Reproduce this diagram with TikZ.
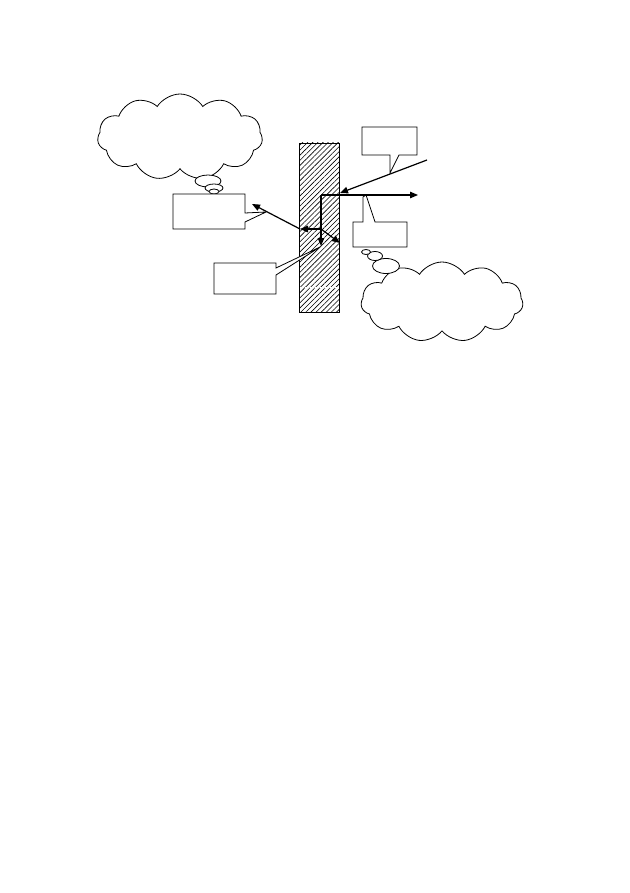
\documentclass[tikz,border=0pt]{standalone}
\usetikzlibrary{shapes.symbols,shapes.geometric,arrows.meta,patterns.meta}
\begin{document}
\begin{tikzpicture}[x=1pt,y=-1pt,
  box/.style={draw=black,line width=0.8pt,fill=white,line join=miter},
  ray/.style={draw=black,line width=1.2pt,-{Triangle[length=8pt,width=6.5pt]}},
  thought/.style={cloud,draw=black,line width=0.8pt,fill=white,cloud puffs=11,cloud puff arc=115,aspect=2,inner sep=0pt},
  bub/.style={ellipse,draw=black,line width=0.8pt,fill=white,inner sep=0pt}]
\useasboundingbox[fill=white] (0,0) rectangle (629,893);
% slab
\fill[pattern={Lines[angle=45,distance=3.6pt,line width=0.6pt]}] (299,143) rectangle (339,312);
\draw[white,line width=0.6pt,dash pattern=on 3pt off 2pt] (300,192) -- (338,192);
\draw[white,line width=0.6pt,dash pattern=on 3pt off 2pt] (300,287) -- (338,287);
\node[draw=black,line width=0.9pt,minimum width=40pt,minimum height=169pt,inner sep=0pt] (slab) at (319,227.5) {};
% clouds
\node[thought,minimum width=165pt,minimum height=86pt] (c1) at (180,137) {};
\node[bub,minimum width=26pt,minimum height=12pt] (b1a) at (208,181) {};
\node[bub,minimum width=18pt,minimum height=8pt] (b1b) at (214,188) {};
\node[bub,minimum width=10pt,minimum height=5pt] (b1c) at (214,191.5) {};
\node[thought,minimum width=162pt,minimum height=80pt] (c2) at (442,302) {};
\node[bub,minimum width=27pt,minimum height=15pt] (b2a) at (386,266) {};
\node[bub,minimum width=15pt,minimum height=9pt] (b2b) at (375,256) {};
\node[bub,minimum width=9pt,minimum height=5pt] (b2c) at (366,252) {};
% callout boxes
\draw[box] (362,127) -- (417,127) -- (417,155) -- (399,155) -- (390,173) -- (390,155) -- (362,155) -- cycle;
\draw[box] (353,222) -- (363,222) -- (363,197) -- (366,195) -- (375,222) -- (407,222) -- (407,247) -- (353,247) -- cycle;
\draw[box] (173,194) -- (245,194) -- (245,213) -- (266,212) -- (245,222) -- (245,229) -- (173,229) -- cycle;
\draw[box] (214,263) -- (276,263) -- (276,268) -- (320,247) -- (276,275) -- (276,294) -- (214,294) -- cycle;
% ray points
\coordinate (src) at (427,160);
\coordinate (hit) at (340,193);
\coordinate (o) at (321,195);
\coordinate (right) at (418,195);
\coordinate (down) at (321,246);
\coordinate (m) at (321,229);
\coordinate (l) at (300,229);
\coordinate (dr) at (340,243);
\coordinate (ul) at (252,204);
\draw[ray] (src) -- (hit);
\draw[ray] (o) -- (right);
\draw[ray] (o) -- (down);
\draw[ray] (m) -- (l);
\draw[ray] (m) -- (dr);
\draw[ray] (l) -- (ul);
\end{tikzpicture}
\end{document}
